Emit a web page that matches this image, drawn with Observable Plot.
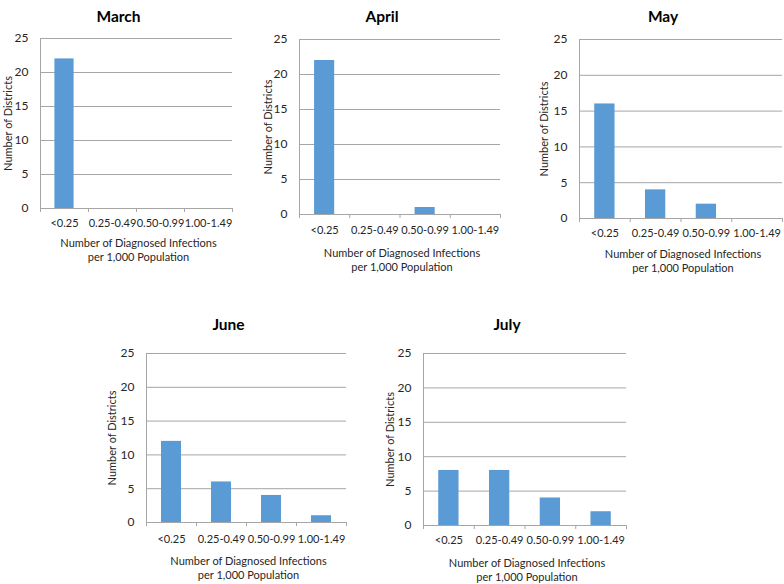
<!DOCTYPE html>
<html><head><meta charset="utf-8">
<script src="https://cdn.jsdelivr.net/npm/d3@7"></script>
<script src="https://cdn.jsdelivr.net/npm/@observablehq/plot@0.6"></script>
<style>
html,body{margin:0;padding:0;background:#fff;}
#root{position:relative;width:784px;height:584px;overflow:hidden;}
#root svg{position:absolute;}
</style></head><body><div id="root"></div>
<script>
// ---- data ----
const categories = ["<0.25", "0.25-0.49", "0.50-0.99", "1.00-1.49"];
const months = ["March", "April", "May", "June", "July"];
const marchValues = [22, 0, 0, 0];
const aprilValues = [22, 0, 1, 0];
const mayValues = [16, 4, 2, 0];
const juneValues = [12, 6, 4, 1];
const julyValues = [8, 8, 4, 2];
const yTicks = [0, 5, 10, 15, 20, 25];
const yTitle = "Number of Districts";
const xTitleLines = ["Number of Diagnosed Infections", "per 1,000 Population"];

const seriesByMonth = [marchValues, aprilValues, mayValues, juneValues, julyValues];

// ---- layout (positions only) ----
const layout = [
  {left: 0,   top: 0,   width: 250, height: 270, mt: 38, mr: 18, mb: 62, ml: 40, tickPad: 10.5, xTitleDy: 41, yTitleDx: -32, titleDy: -28},
  {left: 255, top: 0,   width: 260, height: 275, mt: 39, mr: 15, mb: 61, ml: 44, tickPad: 12, xTitleDy: 45, yTitleDx: -31, titleDy: -29},
  {left: 525, top: 0,   width: 259, height: 275, mt: 39, mr: 2,  mb: 57, ml: 54, tickPad: 11, xTitleDy: 42, yTitleDx: -35, titleDy: -29},
  {left: 90,  top: 300, width: 270, height: 284, mt: 53, mr: 14, mb: 62, ml: 56, tickPad: 13, xTitleDy: 45, yTitleDx: -34, titleDy: -35},
  {left: 370, top: 300, width: 270, height: 284, mt: 53, mr: 14, mb: 59, ml: 53, tickPad: 10.5, xTitleDy: 44, yTitleDx: -33, titleDy: -35}
];

const barColor = "#5b9bd5";
const gridColor = "#a6a6a6";
const textColor = "#262626";
const root = document.getElementById("root");

months.forEach((month, k) => {
  const L = layout[k];
  const rows = categories.map((c, i) => ({category: c, index: i, value: seriesByMonth[k][i]}));
  const boundaries = d3.range(categories.length + 1);
  const centers = categories.map((c, i) => i + 0.5);
  const svg = Plot.plot({
    width: L.width,
    height: L.height,
    marginTop: L.mt, marginRight: L.mr, marginBottom: L.mb, marginLeft: L.ml,
    style: {fontFamily: "Lato, sans-serif", fontSize: "11px", color: textColor, background: "transparent", overflow: "visible"},
    x: {type: "linear", domain: [0, categories.length], label: null},
    y: {domain: [0, 25], label: null},
    marks: [
      Plot.ruleY(yTicks.filter(t => t > 0), {stroke: gridColor, strokeWidth: 1}),
      Plot.rectY(rows.filter(d => d.value > 0), {x1: d => d.index + 0.3, x2: d => d.index + 0.7, y: "value", fill: barColor}),
      Plot.ruleX([0], {y1: 0, y2: 25, stroke: gridColor}),
      Plot.ruleY([0], {stroke: gridColor}),
      Plot.axisX({ticks: boundaries, tickSize: 4, tickFormat: () => "", stroke: gridColor}),
      Plot.axisX({ticks: centers, tickSize: 0, tickPadding: L.tickPad, tickFormat: d => categories[Math.floor(d)], fill: textColor, fontSize: 11}),
      Plot.axisY({ticks: yTicks, tickSize: 0, tickPadding: 12, fill: textColor, fontSize: 12}),
      Plot.text([month], {text: d => d, frameAnchor: "top", dx: -18, dy: L.titleDy, fontWeight: "bold", fontSize: 15.5, fill: "#000"}),
      Plot.text([yTitle], {text: d => d, frameAnchor: "left", dx: L.yTitleDx, rotate: -90, textAnchor: "middle", lineAnchor: "middle", fontSize: 11, fill: textColor}),
      Plot.text([xTitleLines.join("\n")], {text: d => d, frameAnchor: "bottom", dx: 2, dy: L.xTitleDy, lineHeight: 1.27, lineAnchor: "middle", textAnchor: "middle", fontSize: 11, fill: textColor})
    ]
  });
  svg.style.left = L.left + "px";
  svg.style.top = L.top + "px";
  svg.style.maxWidth = "none";
  root.appendChild(svg);
});
</script>
</body></html>
